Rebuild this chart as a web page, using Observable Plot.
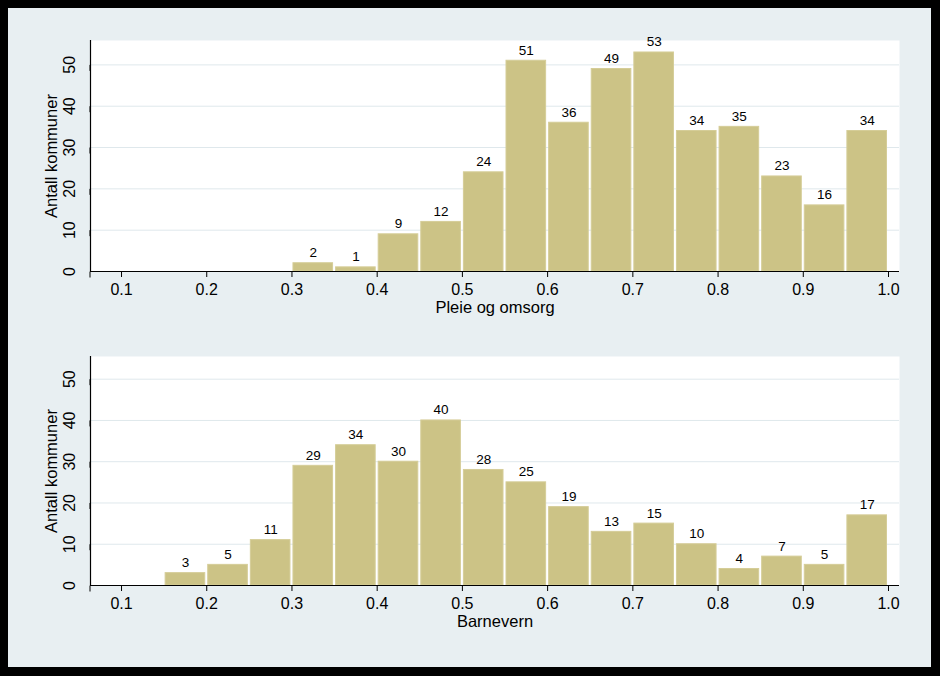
<!DOCTYPE html>
<html>
<head>
<meta charset="utf-8">
<script src="https://cdn.jsdelivr.net/npm/d3@7"></script>
<script src="https://cdn.jsdelivr.net/npm/@observablehq/plot@0.6"></script>
<style>
  html, body { margin: 0; padding: 0; background: #000; }
  #outer { position: relative; width: 940px; height: 676px; background: #000; overflow: hidden; }
  #inner { position: absolute; left: 8px; top: 8px; width: 923px; height: 659px; background: #e8eff2; }
  #inner svg { display: block; }
</style>
</head>
<body>
<div id="outer"><div id="inner"></div></div>
<script>
// ---- data ----
const pleieBinStart = [0.30, 0.35, 0.40, 0.45, 0.50, 0.55, 0.60, 0.65, 0.70, 0.75, 0.80, 0.85, 0.90, 0.95];
const pleieCounts   = [2, 1, 9, 12, 24, 51, 36, 49, 53, 34, 35, 23, 16, 34];
const barneBinStart = [0.15, 0.20, 0.25, 0.30, 0.35, 0.40, 0.45, 0.50, 0.55, 0.60, 0.65, 0.70, 0.75, 0.80, 0.85, 0.90, 0.95];
const barneCounts   = [3, 5, 11, 29, 34, 30, 40, 28, 25, 19, 13, 15, 10, 4, 7, 5, 17];
const binWidth = 0.05;
const xTickValues = [0.1, 0.2, 0.3, 0.4, 0.5, 0.6, 0.7, 0.8, 0.9, 1.0];
const yTickValues = [0, 10, 20, 30, 40, 50];
const yAxisTitle = "Antall kommuner";
const xTitleTop = "Pleie og omsorg";
const xTitleBottom = "Barnevern";

const FONT = "'Liberation Sans', Arial, Helvetica, sans-serif";
const BAR = "#ccc386";
const GRID = "#dfe8ec";
const xDomain = [0.0636, 1.0129];

function panel({bins, counts, xTitle, height, marginTop, marginBottom, yMax}) {
  const data = bins.map((b, i) => ({x1: b, x2: b + binWidth, count: counts[i]}));
  return Plot.plot({
    width: 923,
    height,
    marginLeft: 82,
    marginRight: 32,
    marginTop,
    marginBottom,
    style: {background: "transparent", fontFamily: FONT, color: "black", overflow: "visible"},
    x: {domain: xDomain},
    y: {domain: [0, yMax]},
    marks: [
      Plot.frame({fill: "white", stroke: null}),
      Plot.gridY(yTickValues.filter(d => d > 0), {stroke: GRID, strokeOpacity: 1, strokeWidth: 1}),
      Plot.rectY(data, {x1: "x1", x2: "x2", y: "count", fill: BAR, stroke: "#d5cd98", strokeWidth: 1, insetLeft: 1.5, insetRight: 1.5}),
      Plot.text(data, {x: d => (d.x1 + d.x2) / 2, y: "count", text: d => String(d.count), dy: -6, lineAnchor: "bottom", fontSize: 13.5, fill: "black"}),
      Plot.ruleY([0], {stroke: "black", strokeWidth: 1.2}),
      Plot.ruleX([xDomain[0]], {stroke: "black", strokeWidth: 1.2}),
      Plot.axisX({ticks: xTickValues, tickFormat: d3.format(".1f"), tickSize: 6, tickPadding: 6, fontSize: 16, label: null, stroke: "black"}),
      Plot.axisY({ticks: yTickValues, tickSize: 6, tickPadding: 15, rotate: -90, textAnchor: "middle", fontSize: 16, label: null, stroke: "black"}),
      Plot.text([yAxisTitle], {frameAnchor: "left", dx: -39, rotate: -90, textAnchor: "middle", lineAnchor: "middle", fontSize: 16.5, fill: "black"}),
      Plot.text([xTitle], {frameAnchor: "bottom", dy: 36, textAnchor: "middle", lineAnchor: "middle", fontSize: 16.5, fill: "black"})
    ]
  });
}

const inner = document.getElementById("inner");
inner.appendChild(panel({bins: pleieBinStart, counts: pleieCounts, xTitle: xTitleTop, height: 330, marginTop: 32, marginBottom: 67, yMax: 55.9}));
inner.appendChild(panel({bins: barneBinStart, counts: barneCounts, xTitle: xTitleBottom, height: 329, marginTop: 18, marginBottom: 82, yMax: 55.5}));
</script>
</body>
</html>
